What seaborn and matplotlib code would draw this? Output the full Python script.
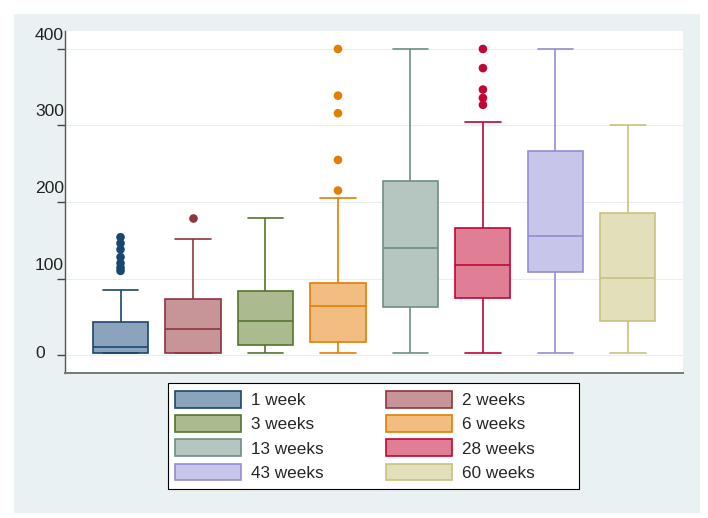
import numpy as np
import pandas as pd
import seaborn as sns
import matplotlib.pyplot as plt
from matplotlib.patches import Patch, Rectangle
from matplotlib.transforms import ScaledTranslation

sns.set_style("white")
plt.rcParams['font.family'] = ['Liberation Sans', 'DejaVu Sans']

# box statistics
weeks = ["1 week", "2 weeks", "3 weeks", "6 weeks",
         "13 weeks", "28 weeks", "43 weeks", "60 weeks"]
lows = [3, 3, 3, 3, 3, 3, 3, 3]
q1s = [3, 3, 13, 17, 63, 74, 108, 45]
medians = [10, 34, 45, 64, 140, 118, 156, 101]
q3s = [43, 73, 84, 94, 227, 166, 267, 186]
highs = [85, 152, 179, 205, 400, 304, 400, 301]
outliers = {
    "1 week": [154, 146, 138, 128, 120, 114, 110],
    "2 weeks": [179],
    "6 weeks": [400, 339, 316, 255, 215],
    "28 weeks": [400, 375, 347, 336, 327],
}

fills = ["#8ca3bd", "#c79497", "#a9bb8f", "#f1bd80",
         "#b5c6c0", "#e07e96", "#c8c5ea", "#e4dfbb"]
edges = ["#1a476f", "#90353b", "#55752f", "#e37e00",
         "#6e8e84", "#c10534", "#938dd2", "#cac27e"]

# long form data: 7 points per group give exact quartiles
rows = []
for w, lo, a, m, b, hi in zip(weeks, lows, q1s, medians, q3s, highs):
    for v in [lo, a, a, m, b, b, hi]:
        rows.append({"week": w, "value": v})
df = pd.DataFrame(rows)

out_rows = [{"week": w, "value": v} for w, vals in outliers.items() for v in vals]
df_out = pd.DataFrame(out_rows)

fig = plt.figure(figsize=(7.08, 5.18), dpi=100, facecolor="white")
W, H = 708, 518
fig.patches.append(Rectangle((14 / W, 5 / H), 686 / W, 499 / H,
                             transform=fig.transFigure, facecolor="#eaf1f3",
                             edgecolor="none", zorder=-5))
# legend frame (Stata leaves extra room on the right)
fig.patches.append(Rectangle((168 / W, 1 - 489 / H), 411 / W, 106 / H,
                             transform=fig.transFigure, facecolor="white",
                             edgecolor="black", linewidth=0.8, zorder=-4))
ax = fig.add_axes([65 / W, 145 / H, 618 / W, 342 / H])
ax.set_facecolor("white")

for i, w in enumerate(weeks):
    sns.boxplot(data=df[df["week"] == w], x="week", y="value", order=weeks,
                color=fills[i], linecolor=edges[i], linewidth=1.2,
                width=0.76, whis=np.inf, saturation=1, ax=ax)
    cont = ax.containers[-1]
    for cap in cont.caps:
        cap.set_xdata([i - 0.245, i + 0.245])

sns.stripplot(data=df_out, x="week", y="value", order=weeks, hue="week",
              palette=dict(zip(weeks, edges)), jitter=False, size=6.2,
              linewidth=0, legend=False, ax=ax, zorder=5)

ax.set_xlim(-0.766, 7.76)
ax.set_ylim(-23.5, 423.5)
ax.set_xticks([])
ax.set_xlabel("")
ax.set_ylabel("")
ax.set_yticks([0, 100, 200, 300, 400])
ax.set_yticklabels(["0", "100", "200", "300", "400"])
ax.yaxis.grid(True, color="#e9eef0", linewidth=0.8)
ax.set_axisbelow(True)
ax.tick_params(axis="y", left=True, length=5.8, width=1, color="#444444",
               pad=15.8, labelsize=12.6, labelcolor="#222222")
for s in ["top", "right"]:
    ax.spines[s].set_visible(False)
ax.spines["left"].set_color("#555555")
ax.spines["left"].set_linewidth(1.0)
ax.spines["bottom"].set_color("#777777")
ax.spines["bottom"].set_linewidth(1.4)

# Stata puts the labels above the ticks
for lbl in ax.get_yticklabels():
    lbl.set_horizontalalignment("left")
    dy = 3 if lbl.get_text() == "0" else 15
    lbl.set_transform(lbl.get_transform() +
                      ScaledTranslation(0, dy / 100, fig.dpi_scale_trans))

handles = [Patch(facecolor=f, edgecolor=e, linewidth=1.2, label=w)
           for w, f, e in zip(weeks, fills, edges)]
order = list(range(0, 8, 2)) + list(range(1, 8, 2))
leg = fig.legend([handles[k] for k in order], [weeks[k] for k in order],
                 loc="upper left", bbox_to_anchor=(175 / W, 1 - 391 / H),
                 ncol=2, fontsize=12.3, frameon=False,
                 handlelength=3.86, handleheight=1.11,
                 handletextpad=0.585, columnspacing=3.63, labelspacing=0.42,
                 borderpad=0, borderaxespad=0)

fig.savefig("out.png", dpi=100, facecolor=fig.get_facecolor())
